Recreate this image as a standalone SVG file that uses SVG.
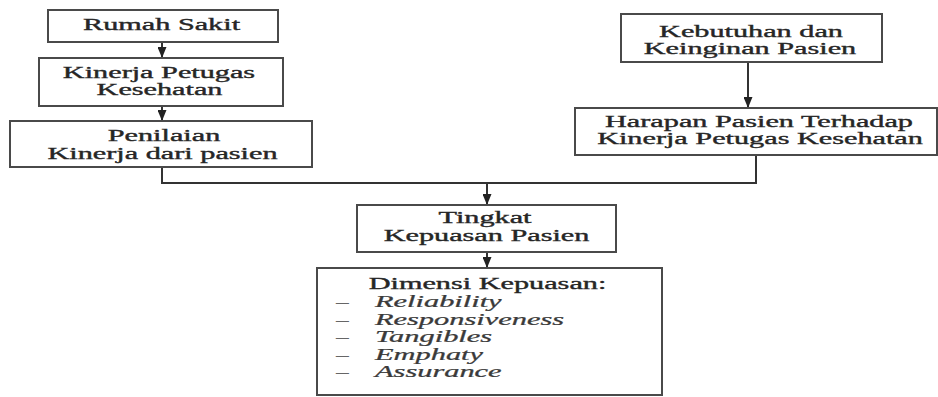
<svg xmlns="http://www.w3.org/2000/svg" width="938" height="397" viewBox="0 0 938 397">
<defs>
<marker id="ah" markerUnits="userSpaceOnUse" markerWidth="12" markerHeight="9" refX="11" refY="4.5" orient="auto">
<path d="M0,0 L11,4.5 L0,9 z" fill="#222"/>
</marker>
<style>
.box{fill:#fff;stroke:#4a4a4a;stroke-width:2}
.t{font-family:"Liberation Serif","Times New Roman",serif;font-size:16px;fill:#262626;stroke:#262626;stroke-width:0.35;text-anchor:middle}
.i{font-family:"Liberation Serif","Times New Roman",serif;font-size:16px;fill:#3a3a3a;stroke:#3a3a3a;stroke-width:0.25;font-style:italic}
.d{font-family:"Liberation Serif","Times New Roman",serif;font-size:16px;fill:#666}
.c{fill:none;stroke:#333;stroke-width:2}
</style>
</defs>
<rect width="938" height="397" fill="#fff"/>
<g id="connectors">
<path class="c" d="M162,42 V58" marker-end="url(#ah)"/>
<path class="c" d="M162,106 V121" marker-end="url(#ah)"/>
<path class="c" d="M162,167 V183 H756 V155"/>
<path class="c" d="M487,183 V205" marker-end="url(#ah)"/>
<path class="c" d="M487,252 V268" marker-end="url(#ah)"/>
<path class="c" d="M748,62 V108" marker-end="url(#ah)"/>
</g>
<g id="rumah-sakit">
<rect class="box" x="48" y="10" width="230" height="32"/>
<text class="t" transform="translate(161.5,30) scale(1.89,1)">Rumah Sakit</text>
</g>
<g id="kinerja-petugas">
<rect class="box" x="39" y="58" width="244" height="48"/>
<text class="t" transform="translate(159,78) scale(1.89,1)">Kinerja Petugas</text>
<text class="t" transform="translate(159.5,95) scale(1.89,1)">Kesehatan</text>
</g>
<g id="penilaian">
<rect class="box" x="10" y="121" width="302" height="46"/>
<text class="t" transform="translate(164,141) scale(1.89,1)">Penilaian</text>
<text class="t" transform="translate(162.5,159) scale(1.89,1)">Kinerja dari pasien</text>
</g>
<g id="kebutuhan">
<rect class="box" x="621" y="14" width="261" height="48"/>
<text class="t" transform="translate(751,37) scale(1.89,1)">Kebutuhan dan</text>
<text class="t" transform="translate(750,54) scale(1.89,1)">Keinginan Pasien</text>
</g>
<g id="harapan">
<rect class="box" x="575" y="108" width="362" height="47"/>
<text class="t" transform="translate(759,126.5) scale(1.89,1)">Harapan Pasien Terhadap</text>
<text class="t" transform="translate(760,144) scale(1.89,1)">Kinerja Petugas Kesehatan</text>
</g>
<g id="tingkat-kepuasan">
<rect class="box" x="357" y="205" width="259" height="47"/>
<text class="t" transform="translate(485,223) scale(1.89,1)">Tingkat</text>
<text class="t" transform="translate(486.5,241) scale(1.89,1)">Kepuasan Pasien</text>
</g>
<g id="dimensi-kepuasan">
<rect class="box" x="317" y="268" width="345" height="127"/>
<text class="t" transform="translate(487.5,288.5) scale(1.89,1)">Dimensi Kepuasan:</text>
<text class="d" transform="translate(336,307) scale(1.6,1)">–</text>
<text class="i" transform="translate(375,307) scale(1.9,1)">Reliability</text>
<text class="d" transform="translate(336,325) scale(1.6,1)">–</text>
<text class="i" transform="translate(375,325) scale(1.9,1)">Responsiveness</text>
<text class="d" transform="translate(336,342) scale(1.6,1)">–</text>
<text class="i" transform="translate(375,342) scale(1.9,1)">Tangibles</text>
<text class="d" transform="translate(336,360) scale(1.6,1)">–</text>
<text class="i" transform="translate(375,360) scale(1.9,1)">Emphaty</text>
<text class="d" transform="translate(336,377) scale(1.6,1)">–</text>
<text class="i" transform="translate(375,377) scale(1.9,1)">Assurance</text>
</g>
</svg>
